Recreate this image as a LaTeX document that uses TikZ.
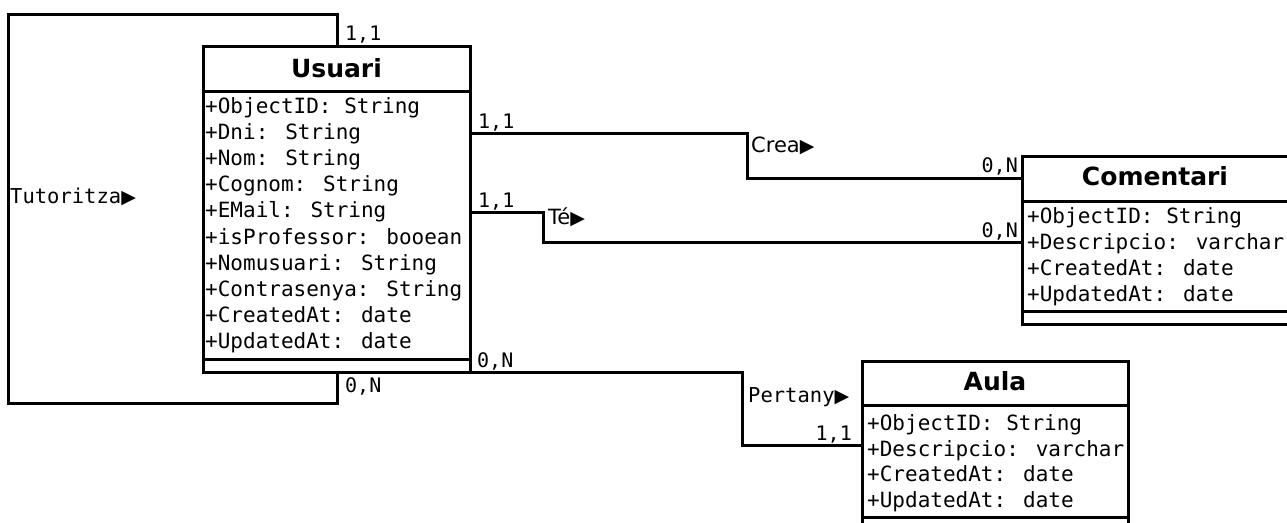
\documentclass[tikz,border=0pt]{standalone}
\usepackage{fontspec}
\newfontfamily\umlmono{DejaVu Sans Mono}
\newfontfamily\umlsans{DejaVu Sans}
\usetikzlibrary{calc}
\newcommand{\reldir}{{\umlsans\fontsize{19}{20}\selectfont ▶}}

\begin{document}
\begin{tikzpicture}[
  x=1pt, y=-1pt,
  classbox/.style={draw, line width=3pt, fill=white, anchor=north west,
    inner sep=0, outer sep=0},
  sepline/.style={line width=3pt},
  classname/.style={font=\umlsans\bfseries\fontsize{25}{30}\selectfont,
    anchor=base, inner sep=0},
  attr/.style={font=\umlmono\fontsize{21}{26}\selectfont,
    anchor=base west, inner sep=0},
  mult/.style={font=\umlmono\fontsize{20}{24}\selectfont, inner sep=0},
  relname/.style={font=\umlmono\fontsize{20.5}{24}\selectfont,
    anchor=base west, inner sep=0},
  relsans/.style={font=\umlsans\fontsize{21}{24}\selectfont,
    anchor=base west, inner sep=0},
  link/.style={line width=3pt}
]
\fill[white] (0,0) rectangle (1287,522);
\useasboundingbox (0,0) rectangle (1287,522);

% ── Classes ─────────────────────────────────────────────────
\node[classbox, minimum width=267pt, minimum height=326pt] (usuari) at (203,46) {};
\draw[sepline] ([yshift=-45pt]usuari.north west) -- ([yshift=-45pt]usuari.north east);
\draw[sepline] ([yshift=13pt]usuari.south west) -- ([yshift=13pt]usuari.south east);
\node[classname] (usuari-name) at (336.5,77) {Usuari};
\foreach \a [count=\i from 0] in {+ObjectID: String, +Dni: String, +Nom: String,
    +Cognom: String, +EMail: String, +isProfessor: booean, +Nomusuari: String,
    +Contrasenya: String, +CreatedAt: date, +UpdatedAt: date}
  \node[attr] (usuari-a\i) at (205,113+26.2*\i) {\a};

\node[classbox, minimum width=267pt, minimum height=168pt] (comentari) at (1022,156) {};
\draw[sepline] ([yshift=-45pt]comentari.north west) -- ([yshift=-45pt]comentari.north east);
\draw[sepline] ([yshift=13pt]comentari.south west) -- ([yshift=13pt]comentari.south east);
\node[classname] (comentari-name) at (1155,185) {Comentari};
\foreach \a [count=\i from 0] in {+ObjectID: String, +Descripcio: varchar,
    +CreatedAt: date, +UpdatedAt: date}
  \node[attr] (comentari-a\i) at (1027,223+26*\i) {\a};

\node[classbox, minimum width=266pt, minimum height=174pt] (aula) at (862,361) {};
\draw[sepline] ([yshift=-44pt]aula.north west) -- ([yshift=-44pt]aula.north east);
\draw[sepline] ([yshift=18pt]aula.south west) -- ([yshift=18pt]aula.south east);
\node[classname] (aula-name) at (995,390) {Aula};
\foreach \a [count=\i from 0] in {+ObjectID: String, +Descripcio: varchar,
    +CreatedAt: date, +UpdatedAt: date}
  \node[attr] (aula-a\i) at (867,430.5+25.7*\i) {\a};

% ── Relations ───────────────────────────────────────────────
% Tutoritza: self loop round Usuari
\draw[link] ([xshift=134pt]usuari.north west) |- (8,14) -- (8,403)
  -| ([xshift=134pt]usuari.south west);
\node[mult, anchor=base west] (tut-m1) at (345,40) {1,1};
\node[mult, anchor=base west] (tut-m2) at (345,392) {0,N};
\node[relname] (tut-name) at (10,203) {Tutoritza\reldir};

% Crea
\draw[link] ([yshift=-87pt]usuari.north east)
  -| ([shift={(-275pt,-22pt)}]comentari.north west) -- ([yshift=-22pt]comentari.north west);
\node[mult, anchor=base west] (crea-m1) at (478,128) {1,1};
\node[relsans] (crea-name) at (751,152) {Crea\reldir};
\node[mult, anchor=base east] (crea-m2) at (1018,172) {0,N};

% Té
\draw[link] ([yshift=-166pt]usuari.north east)
  -| ([shift={(-479pt,-86pt)}]comentari.north west) -- ([yshift=-86pt]comentari.north west);
\node[mult, anchor=base west] (te-m1) at (478,207) {1,1};
\node[relsans] (te-name) at (548,224) {Té\reldir};
\node[mult, anchor=base east] (te-m2) at (1018,237) {0,N};

% Pertany
\draw[link] (usuari.south east)
  -| ([shift={(-120pt,-84pt)}]aula.north west) -- ([yshift=-84pt]aula.north west);
\node[mult, anchor=base west] (pert-m1) at (477,367) {0,N};
\node[relname] (pert-name) at (748,402) {Pertany\reldir};
\node[mult, anchor=base east] (pert-m2) at (852,440) {1,1};

\end{tikzpicture}
\end{document}
